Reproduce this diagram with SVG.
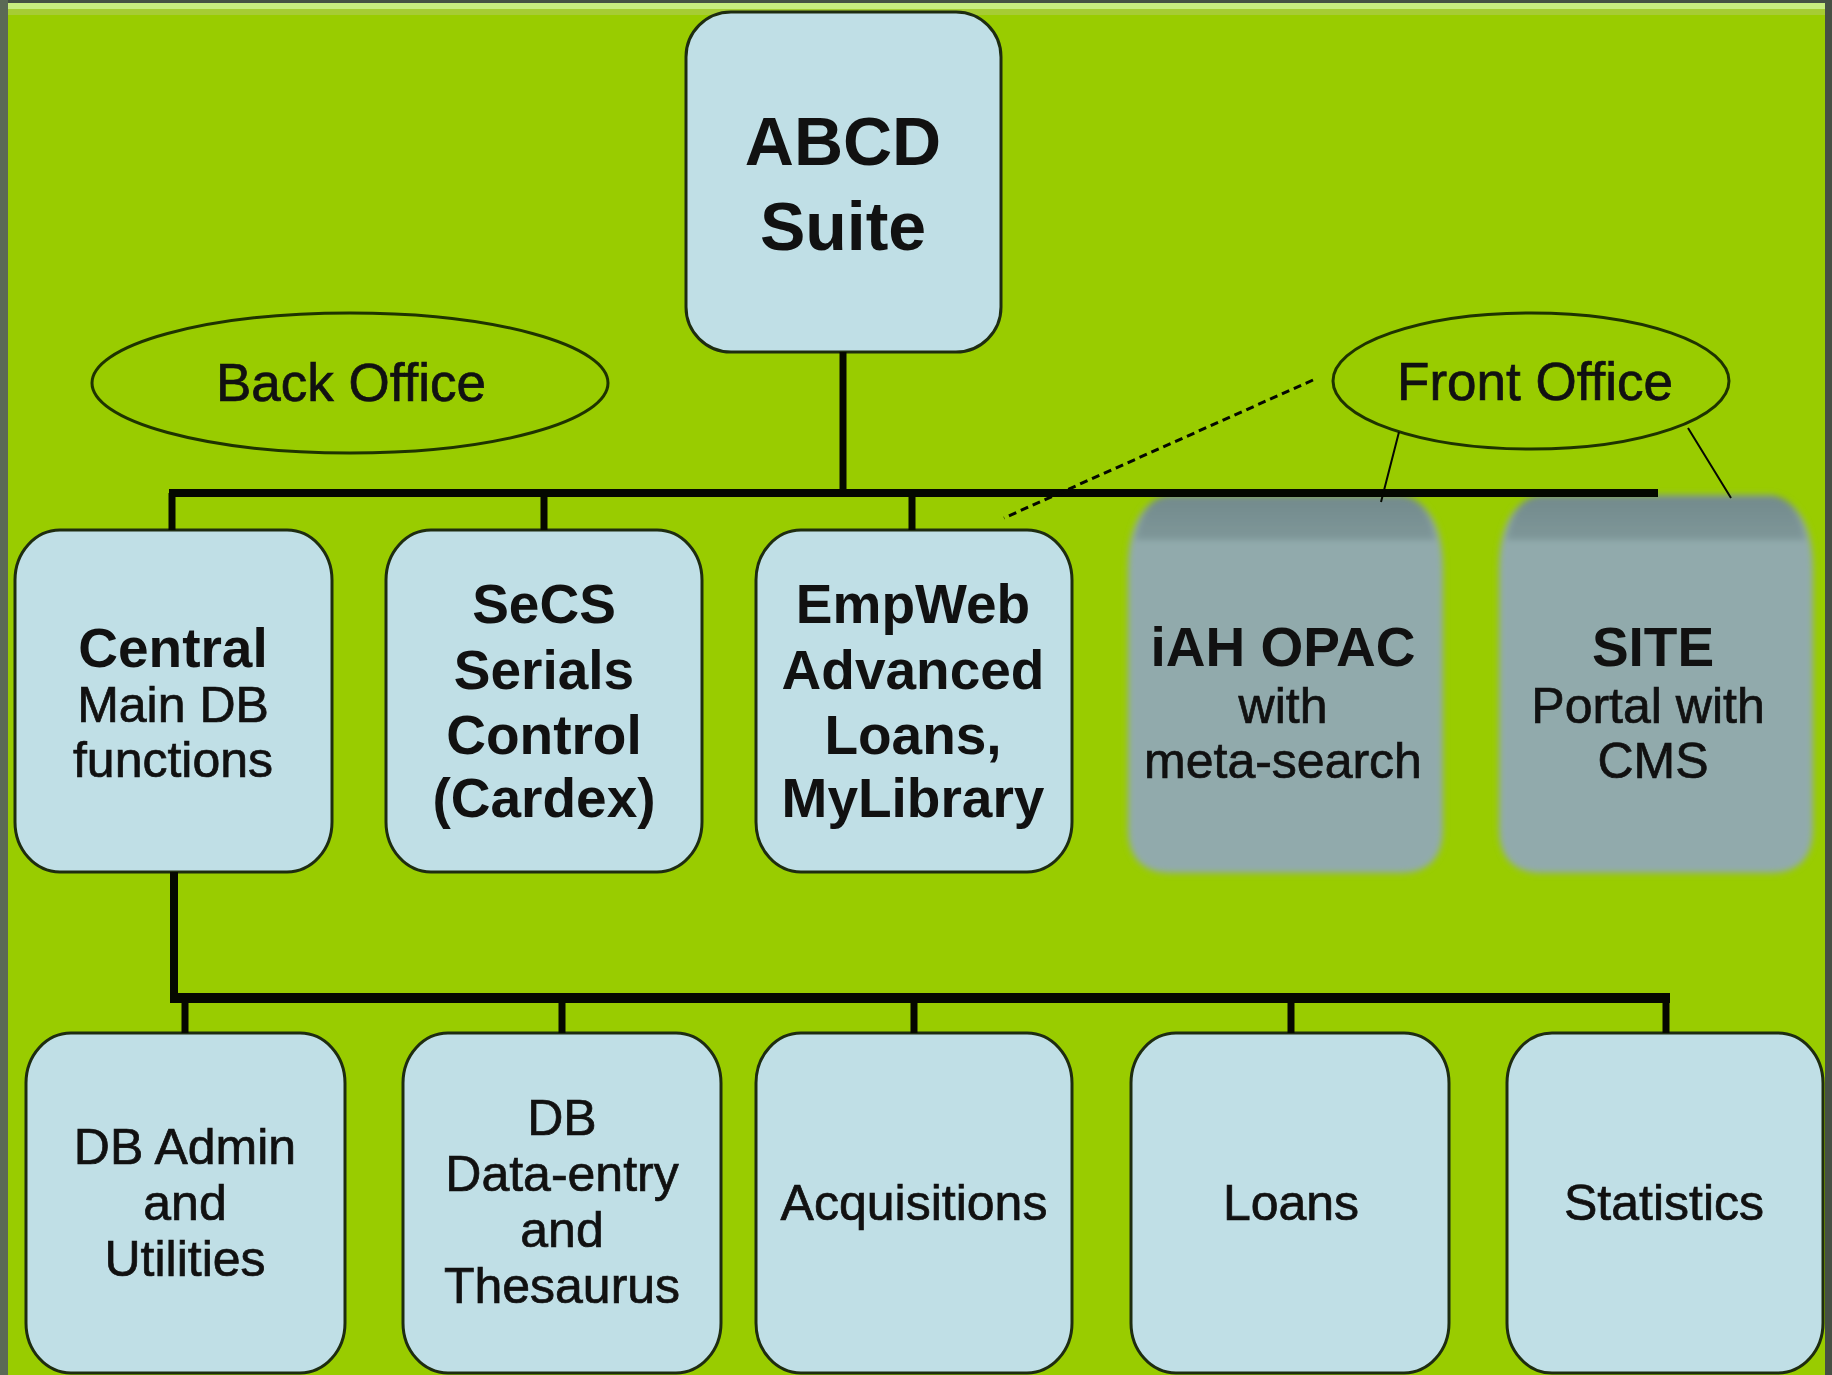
<svg xmlns="http://www.w3.org/2000/svg" width="1832" height="1375" viewBox="0 0 1832 1375">
<defs>
<style>
.box{fill:#c0dfe6;stroke:#1e2c10;stroke-width:3}
.ell{fill:none;stroke:#1e3300;stroke-width:3}
.t{font-family:"Liberation Sans",Arial,sans-serif;fill:#111;text-anchor:middle}
.b{font-weight:bold;font-size:55px}
.n{font-size:50px;stroke:#111;stroke-width:0.7}
.big{font-weight:bold;font-size:68px}
.lbl{font-size:53px;stroke:#111;stroke-width:0.7}
.con{fill:none;stroke:#050800;stroke-linecap:butt}
</style>
<filter id="soft" x="-10%" y="-10%" width="120%" height="120%"><feGaussianBlur stdDeviation="3"/></filter>
<linearGradient id="cap" x1="0" y1="0" x2="0" y2="1">
<stop offset="0" stop-color="#728a8c"/>
<stop offset="1" stop-color="#7f9799"/>
</linearGradient>
</defs>
<rect x="0" y="0" width="1832" height="1375" fill="#465044"/>
<rect x="8" y="3" width="1817" height="1372" fill="#99cc00"/>
<rect x="8" y="3" width="1817" height="6" fill="#c8ec80"/>
<rect x="8" y="9" width="1817" height="6" fill="#a6cc34"/>
<rect x="0" y="0" width="8" height="1375" fill="#5b6a55"/>

<g id="abcd">
<rect class="box" x="686" y="12" width="315" height="340" rx="45" ry="45"/>
<text class="t big" x="843" y="165">ABCD</text>
<text class="t big" x="843" y="250">Suite</text>
</g>

<g id="back-office">
<ellipse class="ell" cx="350" cy="383" rx="258" ry="70"/>
<text class="t lbl" x="351" y="401">Back Office</text>
</g>

<g id="front-office">
<ellipse class="ell" cx="1531" cy="381" rx="198" ry="68"/>
<text class="t lbl" x="1535" y="400">Front Office</text>
</g>

<g id="central">
<rect class="box" x="15" y="530" width="317" height="342" rx="45" ry="50"/>
<text class="t b" x="173" y="667">Central</text>
<text class="t n" x="173" y="722">Main DB</text>
<text class="t n" x="173" y="777">functions</text>
</g>

<g id="secs">
<rect class="box" x="386" y="530" width="316" height="342" rx="45" ry="50"/>
<text class="t b" x="544" y="623">SeCS</text>
<text class="t b" x="544" y="689">Serials</text>
<text class="t b" x="544" y="754">Control</text>
<text class="t b" x="544" y="817">(Cardex)</text>
</g>

<g id="empweb">
<rect class="box" x="756" y="530" width="316" height="342" rx="45" ry="50"/>
<text class="t b" x="913" y="623">EmpWeb</text>
<text class="t b" x="913" y="689">Advanced</text>
<text class="t b" x="913" y="754">Loans,</text>
<text class="t b" x="913" y="817">MyLibrary</text>
</g>

<g id="iah">
<g filter="url(#soft)">
<path d="M1168 495 H1402 Q1443 505 1443 570 V828 Q1443 873 1400 873 H1171 Q1128 873 1128 828 V570 Q1128 505 1168 495 Z" fill="#91aaac"/>
<path d="M1165 496 H1405 Q1428 500 1436 540 H1135 Q1143 500 1165 496 Z" fill="url(#cap)"/>
</g>
<text class="t b" x="1283" y="666">iAH OPAC</text>
<text class="t n" x="1283" y="723">with</text>
<text class="t n" x="1283" y="778">meta-search</text>
</g>

<g id="site">
<g filter="url(#soft)">
<path d="M1539 495 H1772 Q1813 505 1813 570 V828 Q1813 873 1770 873 H1542 Q1499 873 1499 828 V570 Q1499 505 1539 495 Z" fill="#91aaac"/>
<path d="M1536 496 H1775 Q1798 500 1806 540 H1506 Q1514 500 1536 496 Z" fill="url(#cap)"/>
</g>
<text class="t b" x="1653" y="666">SITE</text>
<text class="t n" x="1648" y="723">Portal with</text>
<text class="t n" x="1653" y="778">CMS</text>
</g>

<g id="db-admin">
<rect class="box" x="26" y="1033" width="319" height="340" rx="45" ry="50"/>
<text class="t n" x="185" y="1164">DB Admin</text>
<text class="t n" x="185" y="1220">and</text>
<text class="t n" x="185" y="1276">Utilities</text>
</g>

<g id="db-data-entry">
<rect class="box" x="403" y="1033" width="318" height="340" rx="45" ry="50"/>
<text class="t n" x="562" y="1135">DB</text>
<text class="t n" x="562" y="1191">Data-entry</text>
<text class="t n" x="562" y="1247">and</text>
<text class="t n" x="562" y="1303">Thesaurus</text>
</g>

<g id="acquisitions">
<rect class="box" x="756" y="1033" width="316" height="340" rx="45" ry="50"/>
<text class="t n" x="914" y="1220">Acquisitions</text>
</g>

<g id="loans">
<rect class="box" x="1131" y="1033" width="318" height="340" rx="45" ry="50"/>
<text class="t n" x="1291" y="1220">Loans</text>
</g>

<g id="statistics">
<rect class="box" x="1507" y="1033" width="316" height="340" rx="45" ry="50"/>
<text class="t n" x="1664" y="1220">Statistics</text>
</g>

<g id="connectors">
<path class="con" stroke-width="7" d="M843 352 V493"/>
<path class="con" stroke-width="8" d="M169 493 H1658"/>
<path class="con" stroke-width="7" d="M172 493 V530 M544 493 V530 M912 493 V530"/>
<path class="con" stroke-width="8" d="M174 872 V998"/>
<path class="con" stroke-width="10" d="M170 998 H1670"/>
<path class="con" stroke-width="7" d="M185 998 V1033 M562 998 V1033 M914 998 V1033 M1291 998 V1033 M1666 998 V1033"/>
<path class="con" stroke="#1e3300" stroke-width="2" d="M1399 432 L1381 502 M1688 428 L1731 498"/>
<path class="con" stroke="#1e3300" stroke-width="3" stroke-dasharray="8 5" d="M1313 380 L1004 518"/>
</g>
</svg>
